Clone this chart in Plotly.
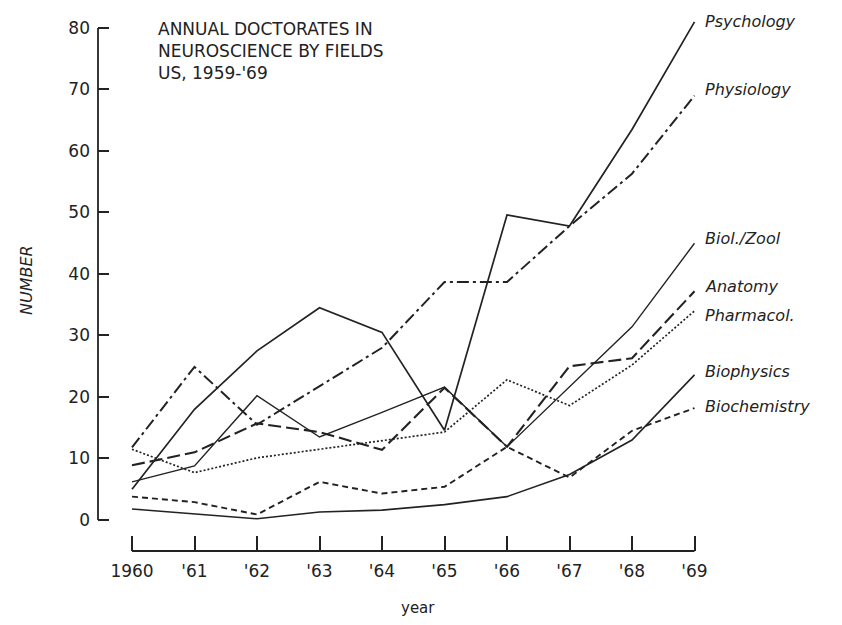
import plotly.graph_objects as go

years = [1960, 1961, 1962, 1963, 1964, 1965, 1966, 1967, 1968, 1969]
year_labels = ["1960", "'61", "'62", "'63", "'64", "'65", "'66", "'67", "'68", "'69"]

psychology = [5.0, 18.0, 27.5, 34.5, 30.5, 14.6, 49.6, 47.8, 63.5, 81.0]
physiology = [11.8, 24.9, 15.5, 21.8, 28.0, 38.7, 38.7, 47.8, 56.3, 69.0]
biol_zool = [6.2, 8.8, 20.2, 13.5, 17.5, 21.6, 11.9, 21.7, 31.4, 45.0]
anatomy = [8.9, 11.0, 15.7, 14.3, 11.4, 21.5, 11.9, 25.0, 26.3, 37.2]
pharmacol = [11.5, 7.7, 10.1, 11.5, 12.9, 14.3, 22.8, 18.6, 25.2, 34.0]
biophysics = [1.8, 1.0, 0.2, 1.3, 1.6, 2.5, 3.8, 7.4, 13.0, 23.6]
biochemistry = [3.8, 2.9, 0.9, 6.2, 4.3, 5.4, 11.9, 6.9, 14.5, 18.2]

series_names = ["Psychology", "Physiology", "Biol./Zool", "Anatomy",
                "Pharmacol.", "Biophysics", "Biochemistry"]
series_values = [psychology, physiology, biol_zool, anatomy,
                 pharmacol, biophysics, biochemistry]
label_y = [81.0, 70.0, 45.7, 37.9, 33.3, 24.1, 18.5]

styles = [
    dict(dash="solid", width=1.7),
    dict(dash="12px,4px,3px,4px", width=2.0),
    dict(dash="solid", width=1.4),
    dict(dash="13px,5px", width=2.1),
    dict(dash="2px,2px", width=1.7),
    dict(dash="solid", width=1.6),
    dict(dash="6px,4px", width=1.9),
]

ink = "#222222"
fig = go.Figure()
for name, vals, st in zip(series_names, series_values, styles):
    fig.add_trace(go.Scatter(
        x=years, y=vals, mode="lines", name=name,
        line=dict(color=ink, dash=st["dash"], width=st["width"]),
        cliponaxis=False, showlegend=False,
    ))

font_family = "DejaVu Sans"
for name, ly in zip(series_names, label_y):
    fig.add_annotation(
        x=years[-1], y=ly, xref="x", yref="y", text=name,
        showarrow=False, xanchor="left", yanchor="middle", xshift=8,
        font=dict(family=font_family, size=16, color=ink, style="italic"),
    )

# title text
fig.add_annotation(
    x=0.096, y=0.997, xref="paper", yref="paper",
    text="ANNUAL DOCTORATES IN<br>NEUROSCIENCE BY FIELDS<br>US, 1959-'69",
    showarrow=False, xanchor="left", yanchor="top", align="left",
    font=dict(family=font_family, size=17, color=ink),
)

# axis lines drawn only over their data span
fig.add_shape(type="line", xref="paper", yref="y", x0=0, x1=0, y0=0, y1=80,
              line=dict(color=ink, width=1.8))
fig.add_shape(type="line", xref="x", yref="paper", x0=years[0], x1=years[-1], y0=0, y1=0,
              line=dict(color=ink, width=1.8))

fig.add_annotation(
    x=0.5316, y=-0.106, xref="paper", yref="paper", text="year",
    showarrow=False, xanchor="center", yanchor="middle",
    font=dict(family=font_family, size=15, color=ink),
)
fig.add_annotation(
    x=-0.118, y=0.5056, xref="paper", yref="paper", text="NUMBER",
    showarrow=False, textangle=-90, xanchor="center", yanchor="middle",
    font=dict(family=font_family, size=16, color=ink, style="italic"),
)

fig.update_xaxes(
    range=[1959.456, 1969.088], tickmode="array", tickvals=years, ticktext=year_labels,
    ticks="inside", ticklen=15, tickwidth=1.8, tickcolor=ink, ticklabelstandoff=8,
    showline=False, showgrid=False, zeroline=False,
    tickfont=dict(family=font_family, size=17, color=ink),
)
fig.update_yaxes(
    range=[-5.041, 82.11], tickmode="array", tickvals=[0, 10, 20, 30, 40, 50, 60, 70, 80],
    ticks="inside", ticklen=11, tickwidth=1.8, tickcolor=ink, ticklabelstandoff=7,
    showline=False, showgrid=False, zeroline=False,
    tickfont=dict(family=font_family, size=17, color=ink),
)

fig.update_layout(
    width=842, height=625,
    margin=dict(l=90, r=150, t=7, b=82),
    paper_bgcolor="white", plot_bgcolor="white",
    showlegend=False,
)

fig.write_html("out.html")
